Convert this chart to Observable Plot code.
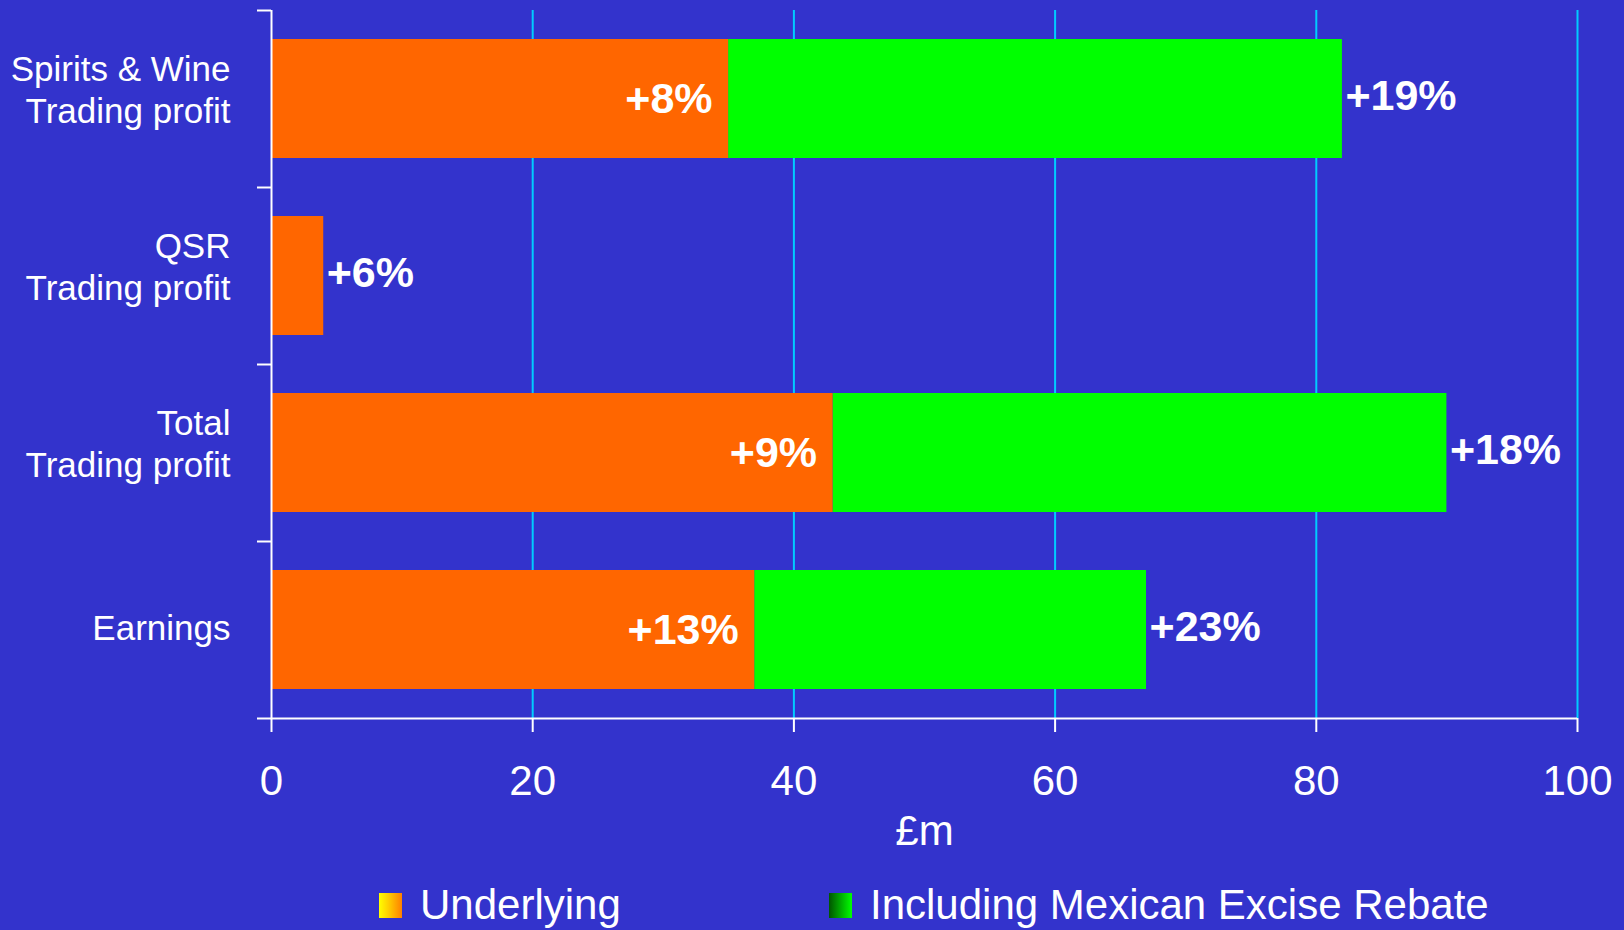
<!DOCTYPE html>
<html>
<head>
<meta charset="utf-8">
<script src="https://cdn.jsdelivr.net/npm/d3@7"></script>
<script src="https://cdn.jsdelivr.net/npm/@observablehq/plot@0.6"></script>
<style>
  html, body { margin: 0; padding: 0; background: #3333CC; }
  body { width: 1624px; height: 930px; overflow: hidden; font-family: "Liberation Sans", Arial, sans-serif; }
  #legend { position: relative; width: 1624px; height: 70px; color: white; font-size: 42px; }
  .item { position: absolute; top: 22px; display: flex; align-items: center; height: 46px; }
  .sw { width: 23px; height: 25px; margin-right: 18px; }
</style>
</head>
<body>
<div id="chart"></div>
<div id="legend"></div>
<script>
// ---- data ----
const categories = ["Spirits & Wine\nTrading profit", "QSR\nTrading profit", "Total\nTrading profit", "Earnings"];
const underlying = [35, 4, 43, 37];
const including = [82, 4, 90, 67];
const underlyingLabels = ["+8%", "", "+9%", "+13%"];
const includingLabels = ["+19%", "+6%", "+18%", "+23%"];
const xTicks = [0, 20, 40, 60, 80, 100];
const xLabel = "£m";
const legendNames = ["Underlying", "Including Mexican Excise Rebate"];

const data = categories.map((c, i) => ({
  category: c,
  underlying: underlying[i],
  including: including[i],
  uLabel: underlyingLabels[i],
  iLabel: includingLabels[i]
}));

const W = 1624, H = 860, mL = 271, mR = 47, mT = 10, mB = 142;
const step = (H - mT - mB) / categories.length;
const tickLen = 14 / ((W - mL - mR) / 100); // 14px in data units

const multi = categories.filter(c => c.includes("\n"));
const single = categories.filter(c => !c.includes("\n"));
const catText = { frameAnchor: "left", textAnchor: "end", dx: -41, fill: "white", fontSize: 35, lineHeight: 1.2 };

const chart = Plot.plot({
  width: W, height: H,
  marginLeft: mL, marginRight: mR, marginTop: mT, marginBottom: mB,
  style: { background: "transparent", color: "white", fontFamily: "Liberation Sans, Arial, sans-serif", overflow: "visible" },
  x: { domain: [0, 100] },
  y: { domain: categories, paddingInner: 0.33, paddingOuter: 0.165, axis: null },
  marks: [
    Plot.gridX(xTicks.filter(d => d > 0), { stroke: "#00CCFF", strokeOpacity: 1, strokeWidth: 2 }),
    Plot.barX(data.filter(d => d.including > d.underlying), { x1: "underlying", x2: "including", y: "category", fill: "#00FF00" }),
    Plot.barX(data, { x1: 0, x2: "underlying", y: "category", fill: "#FF6600" }),
    Plot.ruleX(data.filter(d => d.including > d.underlying), { x: "underlying", y: "category", stroke: "#006600", strokeWidth: 2 }),
    Plot.ruleX(data, { x: 0, y: "category", stroke: "#FFFF00", strokeWidth: 2, dx: -2 }),
    Plot.ruleX([0], { stroke: "white", strokeWidth: 2 }),
    Plot.ruleY(categories, { y: d => d, x1: -tickLen, x2: 0, dy: -step / 2, stroke: "white", strokeWidth: 2 }),
    Plot.ruleY([categories[categories.length - 1]], { y: d => d, x1: -tickLen, x2: 100, dy: step / 2, stroke: "white", strokeWidth: 2 }),
    Plot.axisX({ ticks: xTicks, tickSize: 14, tickPadding: 33, fontSize: 42, label: null, stroke: "white", strokeWidth: 2 }),
    Plot.text(multi, { ...catText, y: d => d, text: d => d, dy: -10 }),
    Plot.text(single, { ...catText, y: d => d, text: d => d, dy: -3 }),
    Plot.text([xLabel], { frameAnchor: "bottom", dy: 126, fontSize: 42, fill: "white" }),
    Plot.text(data.filter(d => d.uLabel), { x: "underlying", y: "category", text: "uLabel", textAnchor: "end", dx: -16, fill: "white", fontSize: 43, fontWeight: "bold" }),
    Plot.text(data, { x: "including", y: "category", text: "iLabel", textAnchor: "start", dx: 3, dy: -3, fill: "white", fontSize: 43, fontWeight: "bold" })
  ]
});
document.getElementById("chart").appendChild(chart);

// legend
const legend = document.getElementById("legend");
const swatches = ["linear-gradient(to right, #FFFF00, #FFD000 40%, #FF8000)", "linear-gradient(to right, #005500, #00FF00)"];
const lefts = [379, 829];
legendNames.forEach((name, i) => {
  const item = document.createElement("div");
  item.className = "item";
  item.style.left = lefts[i] + "px";
  const sw = document.createElement("div");
  sw.className = "sw";
  sw.style.background = swatches[i];
  const t = document.createElement("span");
  t.textContent = name;
  item.appendChild(sw);
  item.appendChild(t);
  legend.appendChild(item);
});
</script>
</body>
</html>
